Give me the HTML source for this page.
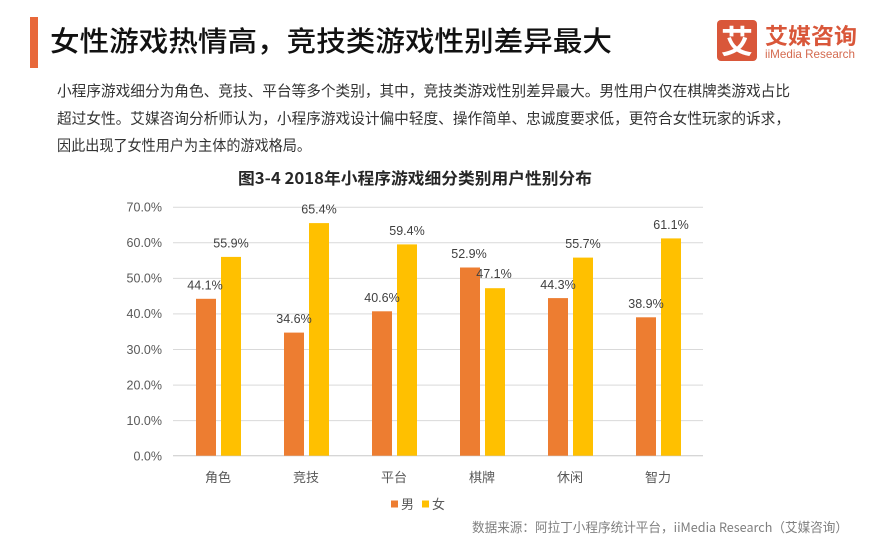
<!DOCTYPE html>
<html>
<head>
<meta charset="utf-8">
<style>
  html,body{margin:0;padding:0;background:#ffffff;}
  svg{display:block;}
  text{font-family:"Liberation Sans","Noto Sans CJK SC",sans-serif;}
  .cjk{font-family:"Noto Sans CJK SC","Liberation Sans",sans-serif;}
</style>
</head>
<body>
<svg width="870" height="541" viewBox="0 0 870 541" xmlns="http://www.w3.org/2000/svg">
  <rect x="0" y="0" width="870" height="541" fill="#ffffff"/>

  <!-- header -->
  <rect x="30" y="17" width="8" height="51" fill="#E8683A"/>
  <text class="cjk" x="50" y="51" font-size="28" font-weight="500" fill="#111111" textLength="562" lengthAdjust="spacingAndGlyphs">女性游戏热情高，竞技类游戏性别差异最大</text>

  <!-- logo -->
  <rect x="717" y="20" width="40" height="41" rx="4" fill="#D9573A"/>
  <text class="cjk" x="737" y="53" font-size="32" font-weight="bold" fill="#ffffff" text-anchor="middle">艾</text>
  <text class="cjk" x="765" y="44" font-size="22" font-weight="bold" fill="#D9573A" textLength="92" lengthAdjust="spacingAndGlyphs">艾媒咨询</text>
  <text x="765" y="58" font-size="12" fill="#D46A4F" textLength="90" lengthAdjust="spacingAndGlyphs">iiMedia Research</text>

  <!-- paragraph -->
  <text class="cjk" x="57" y="96" font-size="15" fill="#333333" textLength="733" lengthAdjust="spacingAndGlyphs">小程序游戏细分为角色、竞技、平台等多个类别，其中，竞技类游戏性别差异最大。男性用户仅在棋牌类游戏占比</text>
  <text class="cjk" x="57" y="123.5" font-size="15" fill="#333333" textLength="733" lengthAdjust="spacingAndGlyphs">超过女性。艾媒咨询分析师认为，小程序游戏设计偏中轻度、操作简单、忠诚度要求低，更符合女性玩家的诉求，</text>
  <text class="cjk" x="57" y="150.5" font-size="15" fill="#333333" textLength="254" lengthAdjust="spacingAndGlyphs">因此出现了女性用户为主体的游戏格局。</text>

  <!-- chart title -->
  <text class="cjk" x="238" y="184" font-size="16" font-weight="bold" fill="#262626" textLength="354" lengthAdjust="spacingAndGlyphs">图3-4 2018年小程序游戏细分类别用户性别分布</text>

  <!-- gridlines -->
  <g stroke="#d9d9d9" stroke-width="1">
    <line x1="173" y1="207.2" x2="703" y2="207.2"/>
    <line x1="173" y1="242.8" x2="703" y2="242.8"/>
    <line x1="173" y1="278.4" x2="703" y2="278.4"/>
    <line x1="173" y1="313.9" x2="703" y2="313.9"/>
    <line x1="173" y1="349.5" x2="703" y2="349.5"/>
    <line x1="173" y1="385.1" x2="703" y2="385.1"/>
    <line x1="173" y1="420.6" x2="703" y2="420.6"/>
  </g>
  <line x1="173" y1="455.7" x2="703" y2="455.7" stroke="#c8c8c8" stroke-width="1"/>

  <!-- y labels -->
  <g font-size="12.5" fill="#595959" text-anchor="end">
    <text x="162" y="211.5">70.0%</text>
    <text x="162" y="247">60.0%</text>
    <text x="162" y="282.6">50.0%</text>
    <text x="162" y="318.2">40.0%</text>
    <text x="162" y="353.8">30.0%</text>
    <text x="162" y="389.3">20.0%</text>
    <text x="162" y="424.9">10.0%</text>
    <text x="162" y="460.5">0.0%</text>
  </g>

  <!-- bars male -->
  <g fill="#ED7D31">
    <rect x="196" y="298.8" width="20" height="156.9"/>
    <rect x="284" y="332.6" width="20" height="123.1"/>
    <rect x="372" y="311.3" width="20" height="144.4"/>
    <rect x="460" y="267.5" width="20" height="188.2"/>
    <rect x="548" y="298.1" width="20" height="157.6"/>
    <rect x="636" y="317.3" width="20" height="138.4"/>
  </g>
  <!-- bars female -->
  <g fill="#FFC000">
    <rect x="221" y="256.9" width="20" height="198.8"/>
    <rect x="309" y="223.1" width="20" height="232.6"/>
    <rect x="397" y="244.4" width="20" height="211.3"/>
    <rect x="485" y="288.2" width="20" height="167.5"/>
    <rect x="573" y="257.6" width="20" height="198.1"/>
    <rect x="661" y="238.4" width="20" height="217.3"/>
  </g>

  <!-- data labels -->
  <g font-size="12.5" fill="#404040" text-anchor="middle">
    <text x="205" y="289.5">44.1%</text>
    <text x="231" y="247.5">55.9%</text>
    <text x="294" y="323">34.6%</text>
    <text x="319" y="213.5">65.4%</text>
    <text x="382" y="302">40.6%</text>
    <text x="407" y="235">59.4%</text>
    <text x="469" y="258">52.9%</text>
    <text x="494" y="278">47.1%</text>
    <text x="558" y="289">44.3%</text>
    <text x="583" y="248">55.7%</text>
    <text x="646" y="308">38.9%</text>
    <text x="671" y="229">61.1%</text>
  </g>

  <!-- category labels -->
  <g class="cjk" font-size="13" fill="#595959" text-anchor="middle">
    <text class="cjk" x="218" y="482">角色</text>
    <text class="cjk" x="306" y="482">竞技</text>
    <text class="cjk" x="394" y="482">平台</text>
    <text class="cjk" x="482" y="482">棋牌</text>
    <text class="cjk" x="570" y="482">休闲</text>
    <text class="cjk" x="658" y="482">智力</text>
  </g>

  <!-- legend -->
  <rect x="391" y="500.5" width="7" height="7" fill="#ED7D31"/>
  <text class="cjk" x="401" y="509" font-size="13" fill="#595959">男</text>
  <rect x="422" y="500.5" width="7" height="7" fill="#FFC000"/>
  <text class="cjk" x="432" y="509" font-size="13" fill="#595959">女</text>

  <!-- source -->
  <text class="cjk" x="472" y="532" font-size="13" fill="#7f7f7f" textLength="376" lengthAdjust="spacingAndGlyphs">数据来源：阿拉丁小程序统计平台，iiMedia Research（艾媒咨询）</text>
</svg>
</body>
</html>
